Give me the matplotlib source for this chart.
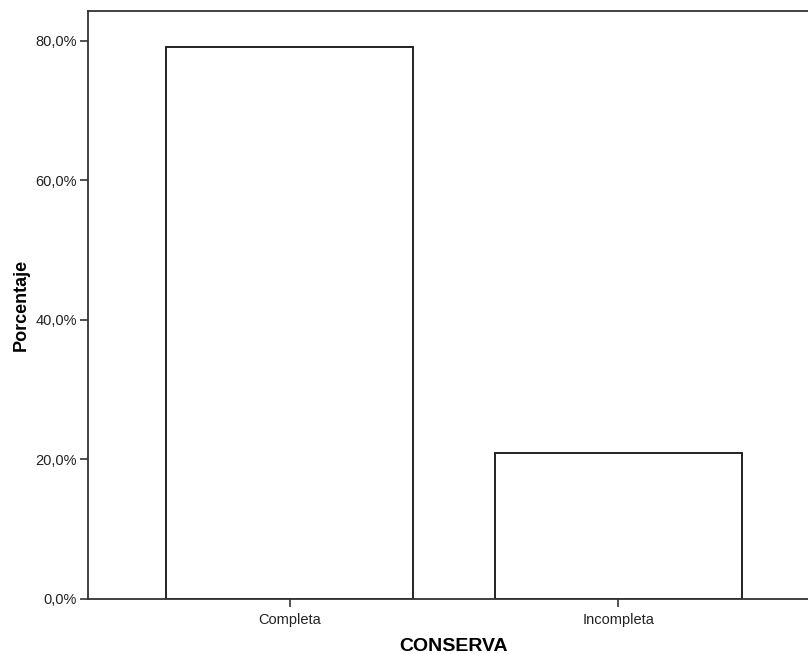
import matplotlib
matplotlib.use("Agg")
import matplotlib.pyplot as plt
from matplotlib.ticker import FuncFormatter

categories = ["Completa", "Incompleta"]
percentages = [79.1, 20.9]
yticks = [0, 20, 40, 60, 80]

plt.rcParams['font.family'] = ['Liberation Sans', 'DejaVu Sans']

fig = plt.figure(figsize=(8.08, 6.54), dpi=100)
ax = fig.add_axes([88/808, 55/654, (820-88)/808, (599-11)/654])

x = list(range(len(categories)))
ax.bar(x, percentages, width=0.75, color='white', edgecolor='#222222', linewidth=1.4)

ax.set_xlim(-0.6125, 1.6125)
ax.set_ylim(0, 84.3)
ax.set_yticks(yticks)
ax.yaxis.set_major_formatter(FuncFormatter(lambda v, p: f"{v:.1f}%".replace('.', ',')))
ax.set_xticks(x)
ax.set_xticklabels(categories)

for s in ['left', 'bottom', 'top', 'right']:
    ax.spines[s].set_linewidth(1.3)
    ax.spines[s].set_color('#333333')

ax.tick_params(axis='y', length=6, width=1.2, color='#333333', labelsize=10.5, labelcolor='#222222', pad=2)
ax.tick_params(axis='x', length=6, width=1.2, color='#333333', labelsize=10.5, labelcolor='#222222', pad=4)
ax.set_ylabel("Porcentaje", fontsize=13, fontweight='bold', labelpad=4)
ax.set_xlabel("CONSERVA", fontsize=14, fontweight='bold', labelpad=8)

fig.savefig("out.png", dpi=100)
